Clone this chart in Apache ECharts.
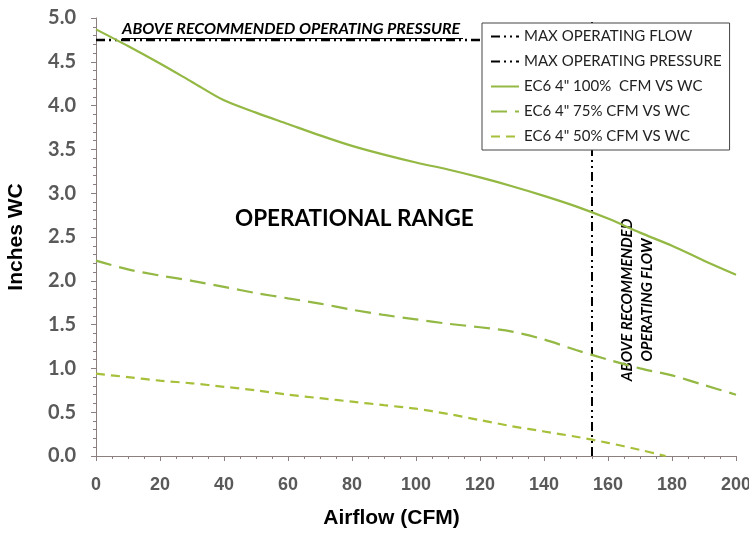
<!DOCTYPE html>
<html><head><meta charset="utf-8">
<script src="https://cdn.jsdelivr.net/npm/echarts@6/dist/echarts.min.js"></script>
<style>html,body{margin:0;padding:0;background:#fff;overflow:hidden}#c{width:749px;height:537px}</style>
</head><body><div id="c"></div>
<script>
const cfm100 = [0,10,20,30,40,50,60,70,80,90,100,110,120,130,140,150,160,170,180,190,200];
const wc100  = [4.87,4.68,4.48,4.27,4.06,3.92,3.79,3.66,3.54,3.44,3.35,3.27,3.18,3.08,2.97,2.85,2.71,2.55,2.40,2.23,2.07];
const cfm75  = [0,10,20,30,40,50,60,70,80,90,100,110,120,130,140,150,160,170,180,190,200];
const wc75   = [2.23,2.13,2.06,2.00,1.93,1.86,1.80,1.74,1.67,1.61,1.56,1.51,1.47,1.42,1.33,1.21,1.10,1.00,0.92,0.81,0.70];
const cfm50  = [0,10,20,30,40,50,60,70,80,90,100,110,120,130,140,150,160,170,178];
const wc50   = [0.94,0.90,0.86,0.83,0.79,0.75,0.70,0.66,0.62,0.58,0.54,0.48,0.41,0.34,0.28,0.22,0.15,0.07,0.0];
const maxFlowX = [155,155];
const maxFlowY = [0,5];
const maxPressX = [0,155];
const maxPressY = [4.75,4.75];
const names = ['MAX OPERATING FLOW','MAX OPERATING PRESSURE','EC6 4" 100%  CFM VS WC','EC6 4" 75% CFM VS WC','EC6 4" 50% CFM VS WC'];

const zip = (a,b)=>a.map((v,i)=>[v,b[i]]);
const green = '#93b843';
const dashDot = [9,4,2,4,2,4];
const font = 'Lato, "Open Sans", sans-serif';

const chart = echarts.init(document.getElementById('c'));
chart.setOption({
  backgroundColor:'#fff',
  animation:false,
  grid:{left:96,right:13,top:18,bottom:81,outerBoundsMode:'none',containLabel:false},
  xAxis:{type:'value',min:0,max:200,interval:20,
    name:'Airflow (CFM)',nameLocation:'middle',nameGap:52,
    nameTextStyle:{fontFamily:'"Liberation Sans", sans-serif',fontWeight:'bold',fontSize:21,color:'#000',padding:[0,49,0,0]},
    axisLine:{lineStyle:{color:'#8c7f7f',width:1}},
    axisTick:{show:true,length:5,lineStyle:{color:'#8c7f7f'}},
    minorTick:{show:true,splitNumber:4,length:3,lineStyle:{color:'#8c7f7f'}},
    axisLabel:{fontFamily:'"Liberation Sans", sans-serif',fontWeight:'bold',fontSize:18,color:'#595959',margin:20},
    splitLine:{show:false}},
  yAxis:{type:'value',min:0,max:5,interval:0.5,
    name:'Inches WC',nameLocation:'middle',nameGap:69,
    nameTextStyle:{fontFamily:'"Liberation Sans", sans-serif',fontWeight:'bold',fontSize:21,color:'#000'},
    axisLine:{show:true,lineStyle:{color:'#8c7f7f',width:1}},
    axisTick:{show:true,length:5,lineStyle:{color:'#8c7f7f'}},
    minorTick:{show:true,splitNumber:5,length:3,lineStyle:{color:'#8c7f7f'}},
    axisLabel:{fontFamily:font,fontWeight:'bold',fontSize:20,color:'#595959',margin:20,formatter:v=>v.toFixed(1)},
    splitLine:{show:false}},
  legend:{orient:'vertical',left:482,top:23,width:240,padding:[6,8,6,8],
    backgroundColor:'#fff',borderColor:'#444',borderWidth:1,
    itemWidth:28,itemHeight:14,itemGap:10,
    itemStyle:{opacity:0,borderWidth:0},
    textStyle:{fontFamily:font,fontSize:15,color:'#222'},
    data:names},
  series:[
    {name:names[0],type:'line',symbol:'none',data:zip(maxFlowX,maxFlowY),lineStyle:{color:'#000',width:2,type:dashDot},itemStyle:{color:'#000'}},
    {name:names[1],type:'line',symbol:'none',data:zip(maxPressX,maxPressY),lineStyle:{color:'#000',width:2.5,type:dashDot},itemStyle:{color:'#000'}},
    {name:names[2],type:'line',symbol:'none',smooth:0.3,data:zip(cfm100,wc100),lineStyle:{color:green,width:2.2,type:'solid'},itemStyle:{color:green}},
    {name:names[3],type:'line',symbol:'none',smooth:0.3,data:zip(cfm75,wc75),lineStyle:{color:green,width:2.2,type:[16,8]},itemStyle:{color:green}},
    {name:names[4],type:'line',symbol:'none',smooth:0.3,data:zip(cfm50,wc50),lineStyle:{color:'#a6c03a',width:2.2,type:[9,6]},itemStyle:{color:'#a6c03a'}}
  ],
  graphic:[
    {type:'text',left:122,top:21,style:{text:'ABOVE RECOMMENDED OPERATING PRESSURE',fontFamily:font,fontWeight:'bold',fontStyle:'italic',fontSize:16,fill:'#000'}},
    {type:'line',shape:{x1:122,y1:38.5,x2:463,y2:38.5},style:{stroke:'#000',lineWidth:1}},
    {type:'text',left:235,top:207,style:{text:'OPERATIONAL RANGE',fontFamily:font,fontWeight:'bold',fontSize:22.5,fill:'#000'}},
    {type:'text',x:637,y:300,rotation:Math.PI/2,style:{text:'ABOVE RECOMMENDED\nOPERATING FLOW',align:'center',verticalAlign:'middle',lineHeight:20,fontFamily:font,fontWeight:'bold',fontStyle:'italic',fontSize:15,fill:'#000'}}
  ]
});
</script></body></html>
